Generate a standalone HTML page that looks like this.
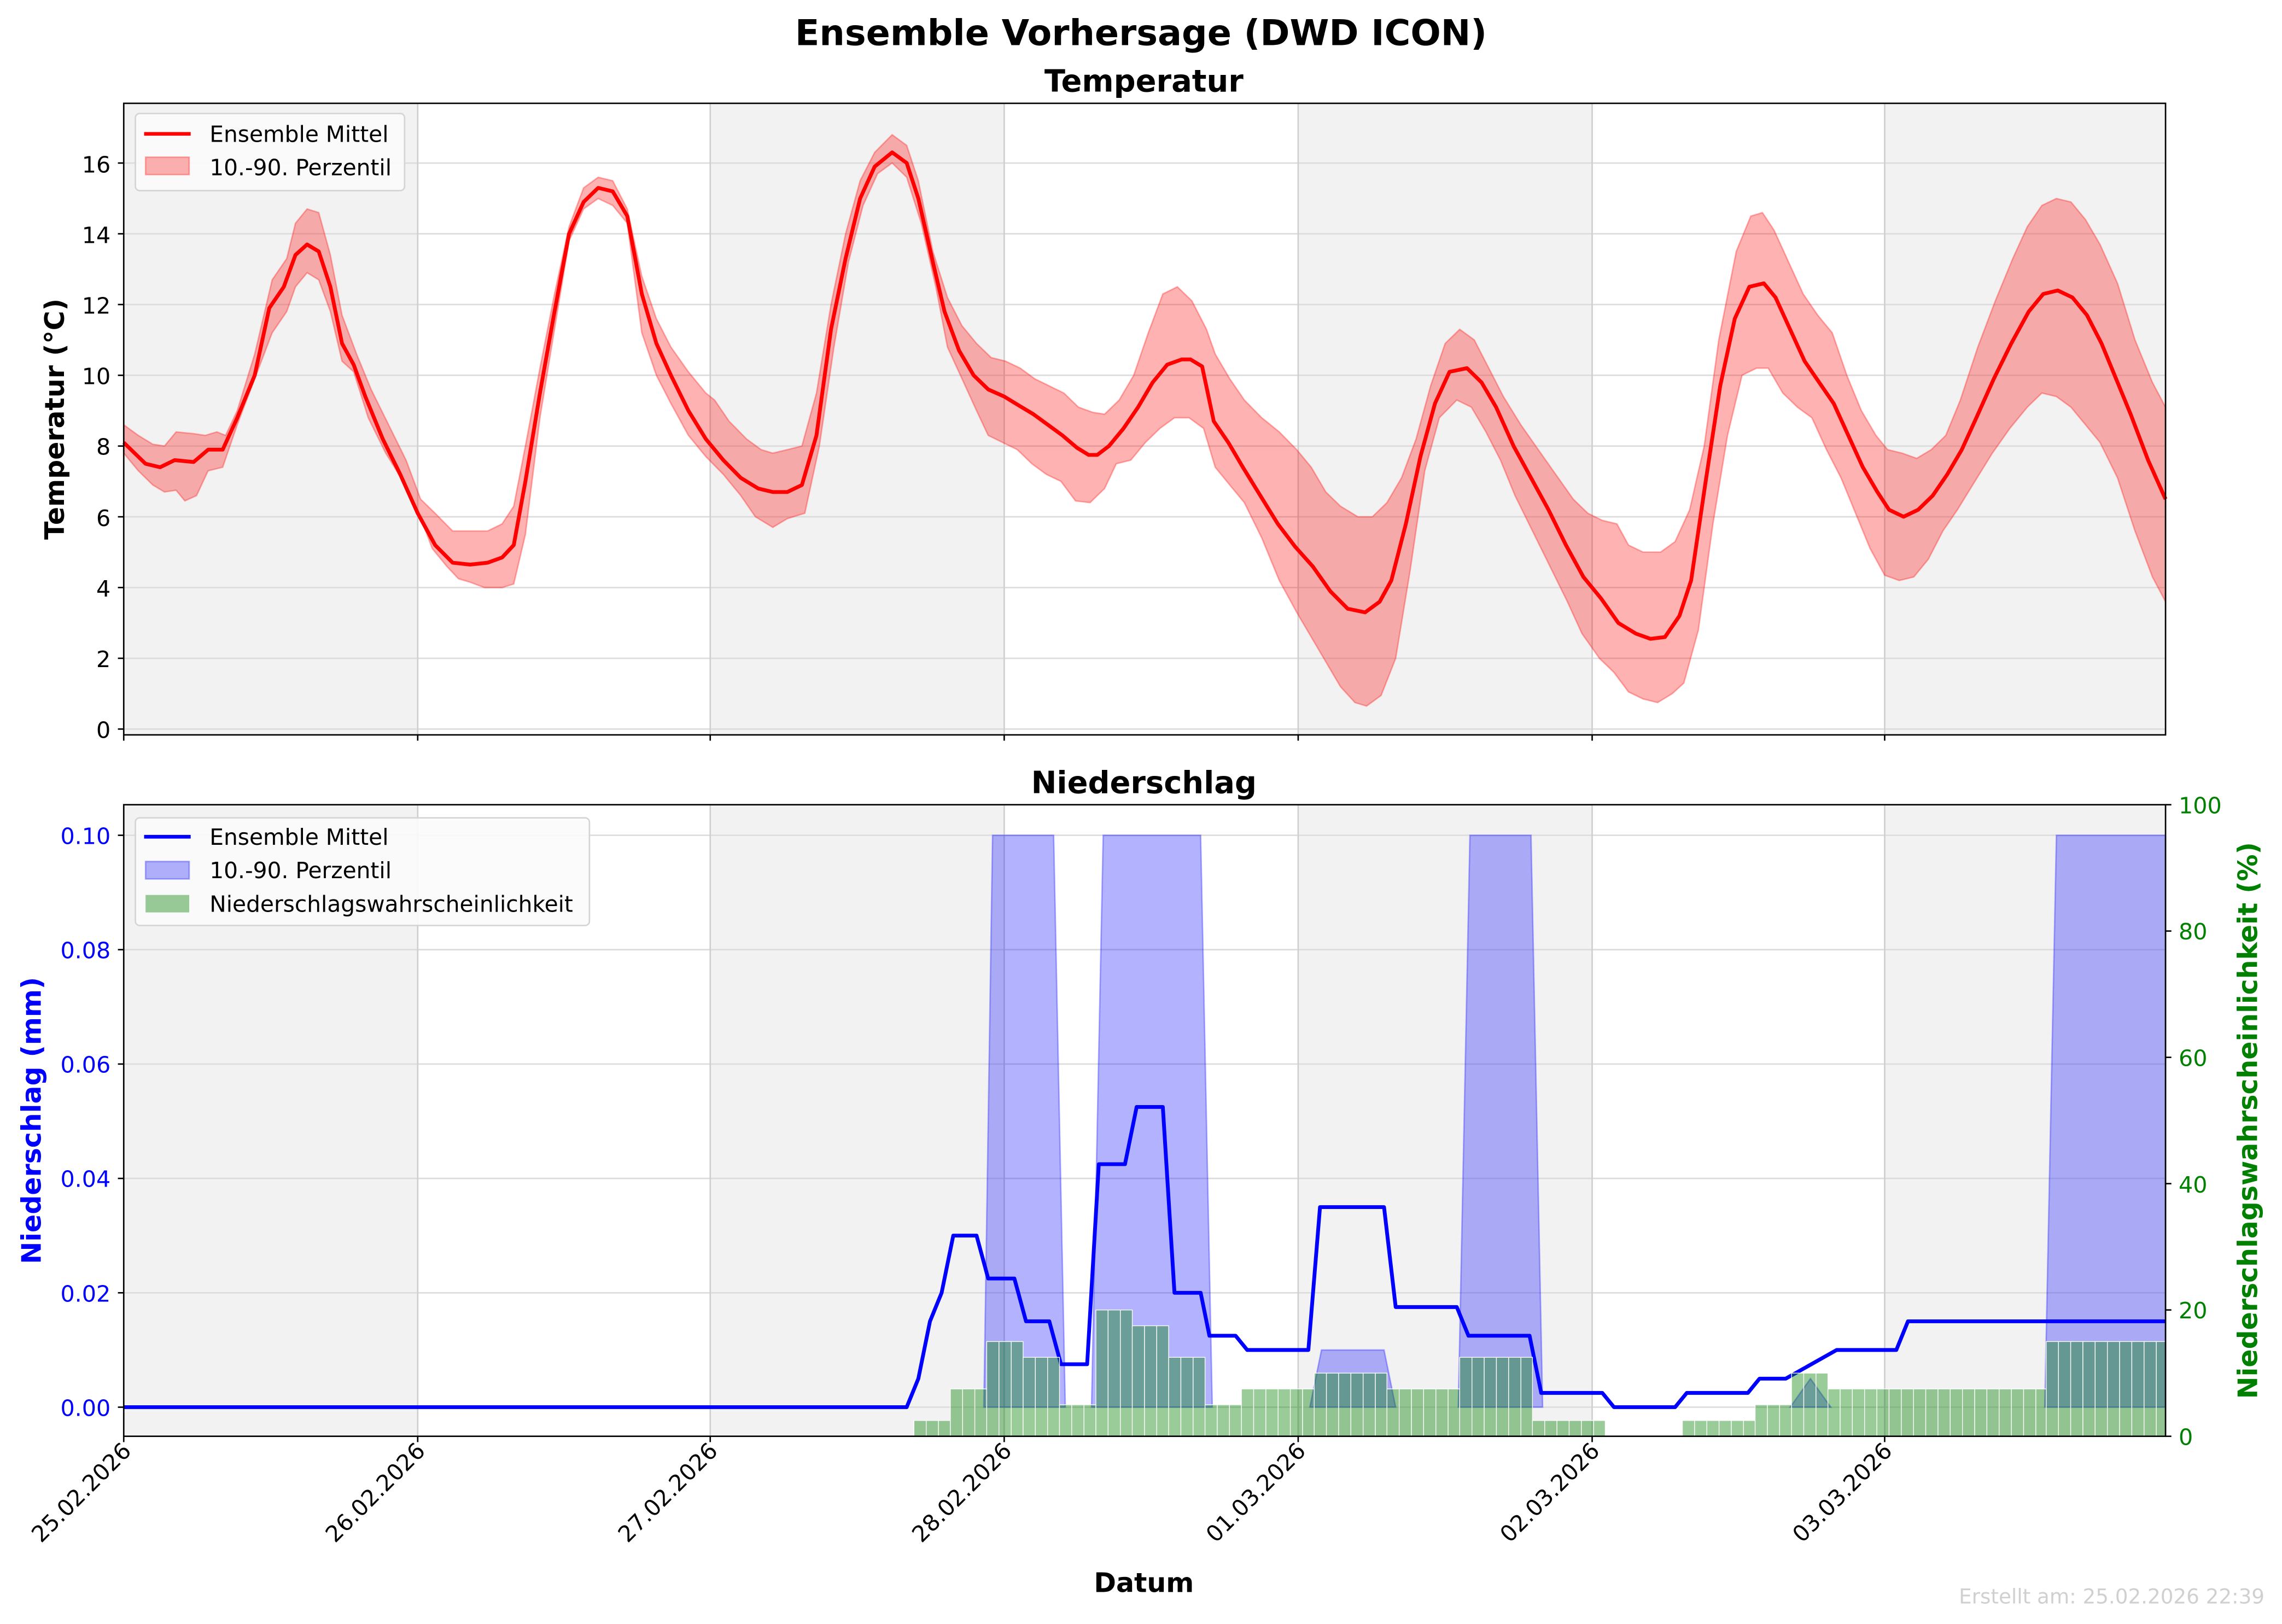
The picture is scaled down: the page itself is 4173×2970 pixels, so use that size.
<!DOCTYPE html>
<html><head><meta charset="utf-8"><style>
html,body{margin:0;padding:0;background:#fff;}
svg{display:block;}
text{font-family:"DejaVu Sans","Liberation Sans",sans-serif;}
</style></head><body>
<svg id="s" xmlns="http://www.w3.org/2000/svg" width="4173" height="2970" viewBox="0 0 1568 1116">
<rect width="1568" height="1116" fill="#fff"/>
<g id="bgTop">
<rect x="85" y="71" width="1403" height="434" fill="#fff"/>
<rect x="85" y="71" width="202" height="434" fill="#f2f2f2"/>
<rect x="488" y="71" width="202" height="434" fill="#f2f2f2"/>
<rect x="892" y="71" width="202" height="434" fill="#f2f2f2"/>
<rect x="1295" y="71" width="193" height="434" fill="#f2f2f2"/>
</g>
<g id="bgBot">
<rect x="85" y="553" width="202" height="434" fill="#f2f2f2"/>
<rect x="488" y="553" width="202" height="434" fill="#f2f2f2"/>
<rect x="892" y="553" width="202" height="434" fill="#f2f2f2"/>
<rect x="1295" y="553" width="193" height="434" fill="#f2f2f2"/>
</g>
<g id="grid" stroke="#dcdcdc" stroke-width="1"></g>
<g id="data"></g>
<rect x="85" y="71" width="1403" height="434" fill="none" stroke="#000" stroke-width="1"/>
<rect x="85" y="553" width="1403" height="434" fill="none" stroke="#000" stroke-width="1"/>
<g id="ticks" stroke="#000" stroke-width="1"></g>

<text x="784" y="31" font-size="24.5" font-weight="bold" text-anchor="middle">Ensemble Vorhersage (DWD ICON)</text>
<text x="786" y="63" font-size="21" font-weight="bold" text-anchor="middle">Temperatur</text>
<text x="786" y="545" font-size="21" font-weight="bold" text-anchor="middle">Niederschlag</text>

<g font-size="15.5" text-anchor="end">
<text x="76" y="507">0</text><text x="76" y="458.5">2</text><text x="76" y="410">4</text>
<text x="76" y="361.5">6</text><text x="76" y="312.5">8</text><text x="76" y="264">10</text>
<text x="76" y="215.5">12</text><text x="76" y="167">14</text><text x="76" y="118.5">16</text>
</g>
<text transform="translate(44,288) rotate(-90)" font-size="18.4" font-weight="bold" text-anchor="middle">Temperatur (°C)</text>

<g font-size="15.5" text-anchor="end" fill="#0000ff">
<text x="76" y="973">0.00</text><text x="76" y="894.5">0.02</text><text x="76" y="815.5">0.04</text>
<text x="76" y="737">0.06</text><text x="76" y="658.5">0.08</text><text x="76" y="580">0.10</text>
</g>
<text transform="translate(28,770) rotate(-90)" font-size="18.4" font-weight="bold" text-anchor="middle" fill="#0000ff">Niederschlag (mm)</text>
<g font-size="15.5" fill="#008000">
<text x="1497" y="993">0</text><text x="1497" y="906">20</text><text x="1497" y="819.5">40</text>
<text x="1497" y="732.5">60</text><text x="1497" y="645.5">80</text><text x="1497" y="559">100</text>
</g>
<text transform="translate(1551,770) rotate(-90)" font-size="18.4" font-weight="bold" text-anchor="middle" fill="#008000">Niederschlagswahrscheinlichkeit (%)</text>

<g font-size="15.5" text-anchor="end">
<text transform="translate(91,998) rotate(-45)">25.02.2026</text>
<text transform="translate(293,998) rotate(-45)">26.02.2026</text>
<text transform="translate(494,998) rotate(-45)">27.02.2026</text>
<text transform="translate(696,998) rotate(-45)">28.02.2026</text>
<text transform="translate(898,998) rotate(-45)">01.03.2026</text>
<text transform="translate(1100,998) rotate(-45)">02.03.2026</text>
<text transform="translate(1301,998) rotate(-45)">03.03.2026</text>
</g>
<text x="786" y="1094" font-size="18.4" font-weight="bold" text-anchor="middle">Datum</text>
<text x="1556" y="1102" font-size="14" fill="#d0d0d0" text-anchor="end">Erstellt am: 25.02.2026 22:39</text>

<g>
<rect x="93" y="78" width="185" height="53" rx="3" fill="#fbfbfb" fill-opacity="0.9" stroke="#d4d4d4" stroke-width="1"/>
<line x1="99" y1="92" x2="131" y2="92" stroke="#ff0000" stroke-width="2.5"/>
<rect x="100" y="108" width="30" height="12" fill="#ff0000" fill-opacity="0.3" stroke="#ff0000" stroke-opacity="0.3"/>
<text x="144" y="97.5" font-size="15.3">Ensemble Mittel</text>
<text x="144" y="120.5" font-size="15.3">10.-90. Perzentil</text>
</g>
<g>
<rect x="93" y="562" width="312" height="74" rx="3" fill="#fbfbfb" fill-opacity="0.9" stroke="#d4d4d4" stroke-width="1"/>
<line x1="99" y1="575" x2="131" y2="575" stroke="#0000ff" stroke-width="2.5"/>
<rect x="100" y="592" width="30" height="12" fill="#0000ff" fill-opacity="0.3" stroke="#0000ff" stroke-opacity="0.3"/>
<rect x="100" y="615" width="30" height="12" fill="#008000" fill-opacity="0.4"/>
<text x="144" y="580.5" font-size="15.3">Ensemble Mittel</text>
<text x="144" y="603.5" font-size="15.3">10.-90. Perzentil</text>
<text x="144" y="626.5" font-size="15.3">Niederschlagswahrscheinlichkeit</text>
</g>
</svg>
<script>
(function(){
var NS="http://www.w3.org/2000/svg";
function el(tag,attrs,parent){var e=document.createElementNS(NS,tag);for(var k in attrs)e.setAttribute(k,attrs[k]);parent.appendChild(e);return e;}
var grid=document.getElementById('grid'),data=document.getElementById('data'),ticks=document.getElementById('ticks');
var days=[85,287,488,690,892,1094,1295];
for(var t=0;t<=16;t+=2){var y=501-t*24.31;el('line',{x1:85,x2:1488,y1:y,y2:y},grid);el('line',{x1:81,x2:85,y1:y,y2:y},ticks);}
for(var i=0;i<=5;i++){var y=967-i*0.02*3930;el('line',{x1:85,x2:1488,y1:y,y2:y},grid);el('line',{x1:81,x2:85,y1:y,y2:y},ticks);}
for(var i=0;i<=5;i++){var y=987-i*20*4.34;el('line',{x1:1488,x2:1492,y1:y,y2:y},ticks);}
days.forEach(function(x){el('line',{x1:x,x2:x,y1:71,y2:505,stroke:'#cfcfcf'},grid);el('line',{x1:x,x2:x,y1:553,y2:987,stroke:'#cfcfcf'},grid);
 el('line',{x1:x,x2:x,y1:505,y2:509},ticks);el('line',{x1:x,x2:x,y1:987,y2:991},ticks);});
function T(v){return 501-v*24.31;}
function parse(s){return s.trim().split(/\s*;\s*/).map(function(p){var a=p.split(':');return [+a[0],+a[1]];});}
var mean=parse("85:8.1;100:7.5;110:7.4;120:7.6;133:7.55;143:7.9;153:7.9;163:8.8;175:10;185:11.9;195:12.5;203:13.4;211:13.7;219:13.5;227:12.5;235:10.9;243:10.3;251:9.4;263:8.2;275:7.2;287:6.1;299:5.2;311:4.7;323:4.65;335:4.7;345:4.85;353:5.2;361:7;371:9.5;381:11.8;391:14;401:14.9;411:15.3;421:15.2;431:14.5;441:12.3;451:10.9;461:10;473:9;485:8.2;497:7.6;509:7.1;521:6.8;531:6.7;541:6.7;551:6.9;561:8.3;571:11.3;581:13.3;591:15;601:15.9;613:16.3;623:16;631:15;641:13.2;649:11.8;659:10.7;669:10;679:9.6;690:9.4;700:9.15;710:8.9;720:8.6;730:8.3;740:7.95;748:7.75;754:7.75;762:8;772:8.5;782:9.1;792:9.8;802:10.3;812:10.45;818:10.45;826:10.25;834:8.7;844:8.1;854:7.4;866:6.6;878:5.8;890:5.15;902:4.6;914:3.9;926:3.4;938:3.3;948:3.6;956:4.2;966:5.8;976:7.7;986:9.2;996:10.1;1008:10.2;1018:9.8;1028:9.1;1040:8;1052:7.1;1064:6.2;1076:5.2;1088:4.3;1100:3.7;1112:3;1124:2.7;1134:2.55;1144:2.6;1154:3.2;1162:4.2;1172:7;1182:9.7;1192:11.6;1202:12.5;1212:12.6;1220:12.2;1230:11.3;1240:10.4;1250:9.8;1260:9.2;1270:8.3;1280:7.4;1290:6.7;1298:6.2;1308:6.0;1318:6.2;1328:6.6;1338:7.2;1348:7.9;1358:8.8;1370:9.9;1382:10.9;1394:11.8;1404:12.3;1414:12.4;1424:12.2;1434:11.7;1444:10.9;1454:9.9;1464:8.9;1476:7.6;1488:6.5");
var hi=parse("85:8.6;95:8.3;105:8.05;113:8;121:8.4;133:8.35;141:8.3;149:8.4;155:8.3;163:9;175:10.6;187:12.7;197:13.3;203:14.3;211:14.7;219:14.6;227:13.4;235:11.7;245:10.6;255:9.6;267:8.6;279:7.6;289:6.5;299:6.1;311:5.6;323:5.6;335:5.6;345:5.8;353:6.3;361:8;371:10.2;381:12.3;391:14.2;401:15.3;411:15.6;421:15.5;431:14.7;441:12.8;451:11.6;461:10.8;473:10.1;485:9.5;491:9.3;501:8.7;513:8.2;523:7.9;531:7.8;541:7.9;551:8;561:9.5;571:12;581:14;591:15.5;601:16.3;613:16.8;623:16.5;631:15.5;641:13.5;651:12.2;661:11.4;671:10.9;681:10.5;691:10.4;701:10.2;711:9.9;721:9.7;731:9.5;741:9.1;751:8.95;759:8.9;769:9.3;779:10;789:11.2;799:12.3;809:12.5;819:12.1;829:11.3;835:10.6;845:9.9;855:9.3;867:8.8;879:8.4;891:7.9;901:7.4;911:6.7;921:6.3;933:6;943:6;953:6.4;963:7.1;973:8.2;983:9.7;993:10.9;1003:11.3;1013:11;1023:10.2;1033:9.4;1045:8.6;1057:7.9;1069:7.2;1081:6.5;1091:6.1;1101:5.9;1111:5.8;1119:5.2;1129:5.0;1141:5.0;1151:5.3;1161:6.2;1171:8;1181:11;1193:13.5;1203:14.5;1211:14.6;1219:14.1;1229:13.2;1239:12.3;1249:11.7;1259:11.2;1269:10;1279:9.0;1289:8.3;1297:7.9;1307:7.8;1317:7.65;1327:7.9;1337:8.3;1347:9.3;1359:10.8;1371:12.1;1383:13.3;1393:14.2;1403:14.8;1413:15.0;1423:14.9;1433:14.4;1443:13.7;1455:12.6;1467:11;1479:9.8;1488:9.1");
var lo=parse("85:7.8;95:7.3;105:6.9;113:6.7;121:6.75;127:6.45;135:6.6;143:7.3;153:7.4;163:8.6;175:9.9;187:11.2;197:11.8;203:12.5;211:12.9;219:12.7;227:11.8;235:10.4;243:10.1;253:8.8;265:7.8;277:7;287:6.2;297:5.1;307:4.6;315:4.25;323:4.15;333:4;345:4;353:4.1;361:5.5;371:8.8;381:11.3;391:13.8;401:14.7;411:15;421:14.8;431:14.3;441:11.2;451:10;461:9.2;473:8.3;485:7.7;497:7.2;509:6.6;519:6;531:5.7;541:5.95;553:6.1;563:8;573:10.8;583:13.2;593:14.8;603:15.7;613:16;623:15.6;633:14.3;643:12.5;651:10.8;661:9.9;671:9;679:8.3;689:8.1;699:7.9;709:7.5;719:7.2;729:7.0;739:6.45;749:6.4;759:6.8;767:7.5;777:7.6;787:8.1;797:8.5;807:8.8;817:8.8;827:8.5;835:7.4;845:6.9;855:6.4;867:5.4;879:4.2;891:3.3;901:2.6;911:1.9;921:1.2;931:0.75;939:0.65;949:0.95;959:2;969:4.5;979:7.3;989:8.8;1001:9.3;1011:9.1;1021:8.4;1031:7.6;1041:6.6;1053:5.6;1065:4.6;1077:3.6;1087:2.7;1099:2.0;1109:1.6;1119:1.05;1129:0.85;1139:0.75;1149:1.0;1157:1.3;1167:2.8;1177:5.8;1187:8.3;1197:10;1207:10.2;1215:10.2;1225:9.5;1235:9.1;1245:8.8;1255:7.9;1265:7.1;1275:6.1;1285:5.1;1295:4.35;1305:4.2;1315:4.3;1325:4.8;1335:5.6;1345:6.2;1357:7.0;1369:7.8;1381:8.5;1393:9.1;1403:9.5;1413:9.4;1423:9.1;1433:8.6;1443:8.1;1455:7.1;1467:5.6;1479:4.3;1488:3.6");
function pts(a){return a.map(function(p){return p[0]+','+T(p[1]).toFixed(1);}).join(' ');}
var band=pts(hi)+' '+pts(lo.slice().reverse());
el('polygon',{points:band,fill:'#ff0000','fill-opacity':0.3,stroke:'#ff0000','stroke-opacity':0.3,'stroke-width':1},data);
el('polyline',{points:pts(mean),fill:'none',stroke:'#ff0000','stroke-width':2.6,'stroke-linejoin':'round'},data);
function P(v){return 967-v*3930;}
var blue=[[676,732,682,724,0.1],[750,833,758,825,0.1],[900,959,908,951,0.01],[1002,1060,1010,1052,0.1],[1230,1258,1244,1244,0.005],[1405,1488,1413,1488,0.1]];
blue.forEach(function(b){var y=P(b[4]);
 el('polygon',{points:b[0]+','+P(0)+' '+b[2]+','+y+' '+b[3]+','+y+' '+b[1]+','+P(0),fill:'#0000ff','fill-opacity':0.3,stroke:'#0000ff','stroke-opacity':0.3,'stroke-width':1},data);});
var pm=[[85,0],[623,0],[631,0.005],[639,0.015],[647,0.02],[655,0.03],[671,0.03],[679,0.0225],[697,0.0225],[705,0.015],[721,0.015],[729,0.0075],[747,0.0075],[755,0.0425],[773,0.0425],[781,0.0525],[799,0.0525],[807,0.02],[825,0.02],[831,0.0125],[849,0.0125],[857,0.01],[899,0.01],[907,0.035],[951,0.035],[959,0.0175],[1001,0.0175],[1009,0.0125],[1051,0.0125],[1059,0.0025],[1101,0.0025],[1109,0],[1151,0],[1159,0.0025],[1201,0.0025],[1209,0.005],[1227,0.005],[1262,0.01],[1303,0.01],[1311,0.015],[1488,0.015]];
el('polyline',{points:pm.map(function(p){return p[0]+','+P(p[1]).toFixed(1);}).join(' '),fill:'none',stroke:'#0000ff','stroke-width':2.6,'stroke-linejoin':'round'},data);
var segs=[[628,653,2.5],[653,678,7.5],[678,703,15],[703,728,12.5],[728,753,5],[753,778,20],[778,803,17.5],[803,828,12.5],[828,853,5],[853,903,7.5],[903,953,10],[953,1003,7.5],[1003,1053,12.5],[1053,1103,2.5],[1156,1206,2.5],[1206,1231,5],[1231,1256,10],[1256,1406,7.5],[1406,1488,15]];
var bw=8.404;
segs.forEach(function(s){var y=987-s[2]*4.34;for(var x=s[0];x<s[1]-1;x+=bw){var w=Math.min(bw,s[1]-x);
 el('rect',{x:x,y:y,width:w,height:987-y,fill:'#008000','fill-opacity':0.4,stroke:'#fff','stroke-width':0.5},data);}});
})();
</script>
</body></html>
